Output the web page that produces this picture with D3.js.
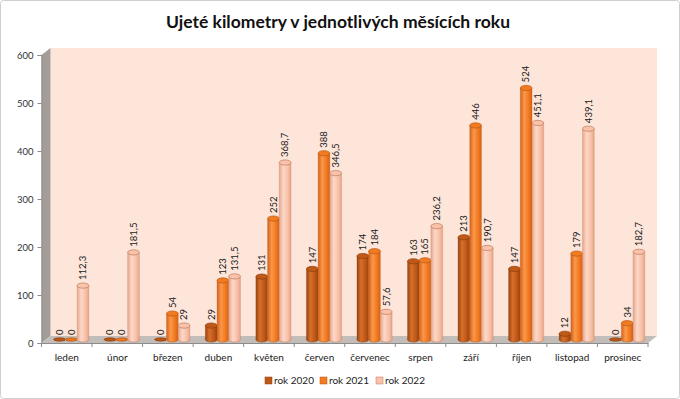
<!DOCTYPE html>
<html>
<head>
<meta charset="utf-8">
<script src="https://cdn.jsdelivr.net/npm/d3@7"></script>
<style>
	body { margin: 0; background: #fff; }
	svg { display: block; font-family: Lato, "Open Sans", sans-serif; }
</style>
</head>
<body>
<div id="chart"></div>
<script>
const months = ["leden", "únor", "březen", "duben", "květen", "červen", "červenec", "srpen", "září", "říjen", "listopad", "prosinec"];
const series = ["rok 2020", "rok 2021", "rok 2022"];
const values2020 = [0, 0, 0, 29, 131, 147, 174, 163, 213, 147, 12, 0];
const values2021 = [0, 0, 54, 123, 252, 388, 184, 165, 446, 524, 179, 34];
const values2022 = [112.3, 181.5, 29, 131.5, 368.7, 346.5, 57.6, 236.2, 190.7, 451.1, 439.1, 182.7];
const yTicks = [0, 100, 200, 300, 400, 500, 600];

const width = 680, height = 399;
const depthX = 9, depthY = -7; // 3D depth of the walls

// colours per series: [edge, main, highlight, outline]
const colors = [
	["#9a440f", "#c05817", "#d6702c", "#8a3f0e"],
	["#d6621a", "#f27a20", "#fa984a", "#b95a16"],
	["#e8a68a", "#f8c2ab", "#fcd8c8", "#c27a5a"],
];

const svg = d3.select("#chart")
	.append("svg")
	.attr("width", width)
	.attr("height", height);

const defs = svg.append("defs");

colors.forEach((c, i) => {
	const g = defs.append("linearGradient")
		.attr("id", `cyl${i}`)
		.attr("x1", "0%").attr("x2", "100%");
	g.append("stop").attr("offset", "0%").attr("stop-color", c[0]);
	g.append("stop").attr("offset", "35%").attr("stop-color", c[2]);
	g.append("stop").attr("offset", "70%").attr("stop-color", c[1]);
	g.append("stop").attr("offset", "100%").attr("stop-color", c[0]);
});

// outer border
svg.append("rect")
	.attr("x", 0.5).attr("y", 0.5)
	.attr("width", width - 1).attr("height", height - 1)
	.attr("rx", 3)
	.attr("fill", "#fff")
	.attr("stroke", "#cfcfcf");

// title
svg.append("text")
	.attr("x", 338)
	.attr("y", 28)
	.attr("text-anchor", "middle")
	.style("font-size", "17.5px")
	.style("font-weight", "bold")
	.attr("fill", "#111")
	.text("Ujeté kilometry v jednotlivých měsících roku");

// scales
const x = d3.scaleBand()
	.domain(months)
	.range([41.5, 648]);

const xs = d3.scaleBand()
	.domain(series)
	.range([0, x.bandwidth()])
	.paddingOuter(0.66);

const y = d3.scaleLinear()
	.domain([0, 600])
	.range([343, 55]);

const [x0, x1] = x.range();
const yb = y(0), yt = y(600);

// back wall
svg.append("rect")
	.attr("x", x0 + depthX)
	.attr("y", yt + depthY)
	.attr("width", x1 - x0)
	.attr("height", yb - yt)
	.attr("fill", "#fde5d9");

// left wall
svg.append("path")
	.attr("d", `M${x0},${yb}L${x0},${yt}L${x0 + depthX},${yt + depthY}L${x0 + depthX},${yb + depthY}Z`)
	.attr("fill", "#a39d99");

// floor
svg.append("path")
	.attr("d", `M${x0},${yb}L${x1},${yb}L${x1 + depthX},${yb + depthY}L${x0 + depthX},${yb + depthY}Z`)
	.attr("fill", "#c2bdb9");

// axes
svg.append("g")
	.attr("transform", `translate(${x0},0)`)
	.call(d3.axisLeft(y).tickValues(yTicks).tickSize(4).tickPadding(4))
	.call(g => g.selectAll("line, path").attr("stroke", "#8c8c8c"))
	.call(g => g.selectAll("text").attr("fill", "#333").style("font-size", "9.5px").style("font-family", "Lato"));

svg.append("g")
	.attr("transform", `translate(0,${yb})`)
	.call(d3.axisBottom(x).tickSize(0).tickPadding(11))
	.call(g => g.selectAll("line, path").attr("stroke", "#8c8c8c"))
	.call(g => g.selectAll("text").attr("fill", "#222").style("font-size", "10px").style("font-family", "Lato"));

// category boundary ticks
svg.append("g")
	.selectAll("line")
	.data(months.concat([null]))
	.join("line")
	.attr("x1", (d, i) => x0 + i * x.step())
	.attr("x2", (d, i) => x0 + i * x.step())
	.attr("y1", yb)
	.attr("y2", yb + 4)
	.attr("stroke", "#8c8c8c");

// bars (cylinders)
const allValues = [values2020, values2021, values2022];
const rows = [];
months.forEach((m, mi) => {
	series.forEach((s, si) => {
		rows.push({ month: m, series: s, si: si, value: allValues[si][mi] });
	});
});

const base = yb + depthY / 2;
const bw = xs.bandwidth();
const barTop = d => base - (yb - y(d.value));
const capRy = d => d.value === 0 ? 1.5 : 2.6;

const bars = svg.append("g")
	.selectAll("g")
	.data(rows)
	.join("g")
	.attr("transform", d => `translate(${x(d.month) + xs(d.series) + depthX / 2},0)`);

bars.append("ellipse")
	.attr("cx", bw / 2)
	.attr("cy", base)
	.attr("rx", bw / 2)
	.attr("ry", capRy)
	.attr("fill", d => `url(#cyl${d.si})`)
	.attr("stroke", d => colors[d.si][3])
	.attr("stroke-width", 0.5);

bars.append("rect")
	.attr("x", 0)
	.attr("y", d => barTop(d))
	.attr("width", bw)
	.attr("height", d => base - barTop(d))
	.attr("fill", d => `url(#cyl${d.si})`);

bars.append("path")
	.attr("d", d => `M0,${barTop(d)}L0,${base}M${bw},${barTop(d)}L${bw},${base}`)
	.attr("stroke", d => colors[d.si][3])
	.attr("stroke-width", 0.5)
	.attr("stroke-opacity", 0.6);

bars.append("ellipse")
	.attr("cx", bw / 2)
	.attr("cy", d => barTop(d))
	.attr("rx", bw / 2)
	.attr("ry", capRy)
	.attr("fill", d => colors[d.si][1])
	.attr("stroke", d => colors[d.si][3])
	.attr("stroke-width", 0.7);

// value labels
bars.append("text")
	.attr("transform", d => `translate(${bw / 2},${barTop(d) - capRy(d) - 3}) rotate(-90)`)
	.attr("dy", "0.35em")
	.attr("text-anchor", "start")
	.attr("fill", "#222")
	.style("font-size", "9.5px")
	.text(d => String(d.value).replace(".", ","));

// legend
const legendX = [265, 320, 376];
const legend = svg.append("g")
	.selectAll("g")
	.data(series)
	.join("g")
	.attr("transform", (d, i) => `translate(${legendX[i]},377)`);

legend.append("rect")
	.attr("width", 7)
	.attr("height", 7)
	.attr("fill", (d, i) => colors[i][1])
	.attr("stroke", (d, i) => colors[i][3])
	.attr("stroke-width", 0.5);

legend.append("text")
	.attr("x", 9)
	.attr("y", 7)
	.attr("fill", "#222")
	.style("font-size", "10px")
	.text(d => d);
</script>
</body>
</html>
